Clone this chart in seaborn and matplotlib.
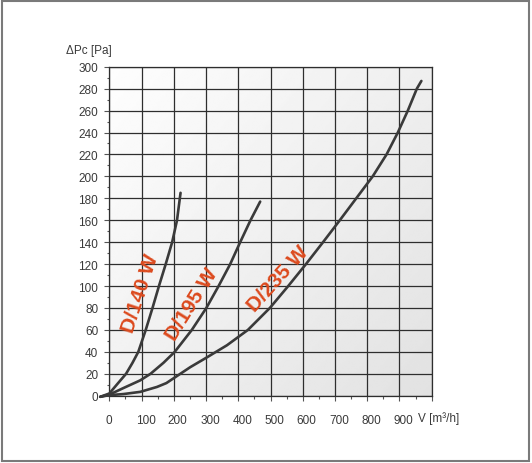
import numpy as np
import pandas as pd
import seaborn as sns
import matplotlib
matplotlib.use("Agg")
import matplotlib.pyplot as plt
from matplotlib.patches import Rectangle
from matplotlib.ticker import MultipleLocator
import matplotlib.transforms as mtransforms

# ---- data ----
d140_x = [-28, 0, 23, 52, 72, 90, 113, 134, 154, 175, 195, 210, 221]
d140_y = [-1, 2, 10, 20, 30, 40, 60, 80, 100, 120, 140, 160, 185]

d195_x = [-28, 0, 44, 96, 128, 168, 203, 256, 301, 339, 375, 406, 438, 468]
d195_y = [-1, 1, 7, 14, 20, 30, 40, 60, 80, 100, 120, 140, 160, 177]

d235_x = [-28, 0, 44, 96, 148, 177, 200, 251, 303, 365, 430, 498, 555, 610, 663,
          715, 766, 817, 860, 895, 926, 954, 968]
d235_y = [-1, 0.5, 1.5, 3.5, 8, 11.5, 16, 26, 35, 46, 60, 80, 100, 120, 140,
          160, 180, 200, 220, 240, 260, 280, 287]

series_names = ["D/140 W", "D/195 W", "D/235 W"]
label_pos_x = [97, 255, 522]
label_pos_y = [94, 84, 107]
label_rot = [72, 58, 48]

x_ticks = list(range(0, 1001, 100))
x_tick_labels = ["0", "100", "200", "300", "400", "500", "600", "700", "800", "900", ""]
y_ticks = list(range(0, 301, 20))
y_tick_labels = [str(v) for v in y_ticks]

df = pd.concat([
    pd.DataFrame({"V": d140_x, "dP": d140_y, "model": series_names[0]}),
    pd.DataFrame({"V": d195_x, "dP": d195_y, "model": series_names[1]}),
    pd.DataFrame({"V": d235_x, "dP": d235_y, "model": series_names[2]}),
])

sns.set_theme(style="white")
plt.rcParams["font.family"] = ["Liberation Sans", "DejaVu Sans"]

W, H = 532, 464
fig = plt.figure(figsize=(W / 100, H / 100), dpi=100)
fig.patch.set_facecolor("white")
left, right, top, bottom = 109.3, 431.7, 67.7, 396.7
ax = fig.add_axes([left / W, 1 - bottom / H, (right - left) / W, (bottom - top) / H])

# background gradient of the panel
gx = np.linspace(0, 1, 200)
gy = np.linspace(0, 1, 200)
GX, GY = np.meshgrid(gx, gy)
grad = 0.995 - 0.06 * GX - 0.05 * (1 - GY)
ax.imshow(grad, extent=[0, 1000, 0, 300], origin="lower", aspect="auto",
          cmap="gray", vmin=0, vmax=1, zorder=0, interpolation="bilinear")

sns.lineplot(data=df, x="V", y="dP", units="model", estimator=None, sort=False,
             color="#3a3a3a", linewidth=1.9, ax=ax, legend=False)
for ln in ax.lines:
    ln.set_clip_on(False)
    ln.set_solid_capstyle("round")
    ln.set_solid_joinstyle("round")
    ln.set_zorder(3)

ax.set_xlim(0, 1000)
ax.set_ylim(0, 300)
ax.set_xticks(x_ticks)
ax.set_xticklabels(x_tick_labels)
ax.set_yticks(y_ticks)
ax.set_yticklabels(y_tick_labels)
ax.xaxis.set_minor_locator(MultipleLocator(50))
ax.yaxis.set_minor_locator(MultipleLocator(10))
ax.set_xlabel("")
ax.set_ylabel("")

ax.grid(True, which="major", color="#2e2e2e", linewidth=0.9)
ax.set_axisbelow(True)
for sp in ax.spines.values():
    sp.set_color("#2e2e2e")
    sp.set_linewidth(0.9)
    sp.set_zorder(2.5)

ax.tick_params(axis="both", which="both", bottom=True, left=True, direction="out",
               color="#555555", width=0.8)
ax.tick_params(axis="both", which="major", length=3.5, labelsize=8.5, labelcolor="#3a3a3a")
ax.tick_params(axis="both", which="minor", length=1.8)
ax.tick_params(axis="x", which="major", pad=10)
ax.tick_params(axis="y", which="major", pad=4.5)

offset = mtransforms.ScaledTranslation(4 / 100, 0, fig.dpi_scale_trans)
for lab in ax.get_xticklabels()[1:]:
    lab.set_transform(lab.get_transform() + offset)

for name, lx, ly, rot in zip(series_names, label_pos_x, label_pos_y, label_rot):
    ax.text(lx, ly, name, rotation=rot, rotation_mode="anchor", ha="center", va="center",
            color="#dc4a1e", fontsize=15, fontweight="bold", zorder=4)

fig.text(112 / W, 1 - 51 / H, "ΔPc [Pa]", ha="right", va="center",
         fontsize=8.5, color="#3a3a3a")
fig.text(418 / W, 1 - 419 / H, "V [m³/h]", ha="left", va="center",
         fontsize=8.5, color="#3a3a3a")

fig.patches.append(Rectangle((1.5 / W, 2 / H), 527 / W, 460.5 / H, transform=fig.transFigure,
                             fill=False, edgecolor="#7a7a7a", linewidth=1.5))

fig.savefig("out.png", dpi=100)
